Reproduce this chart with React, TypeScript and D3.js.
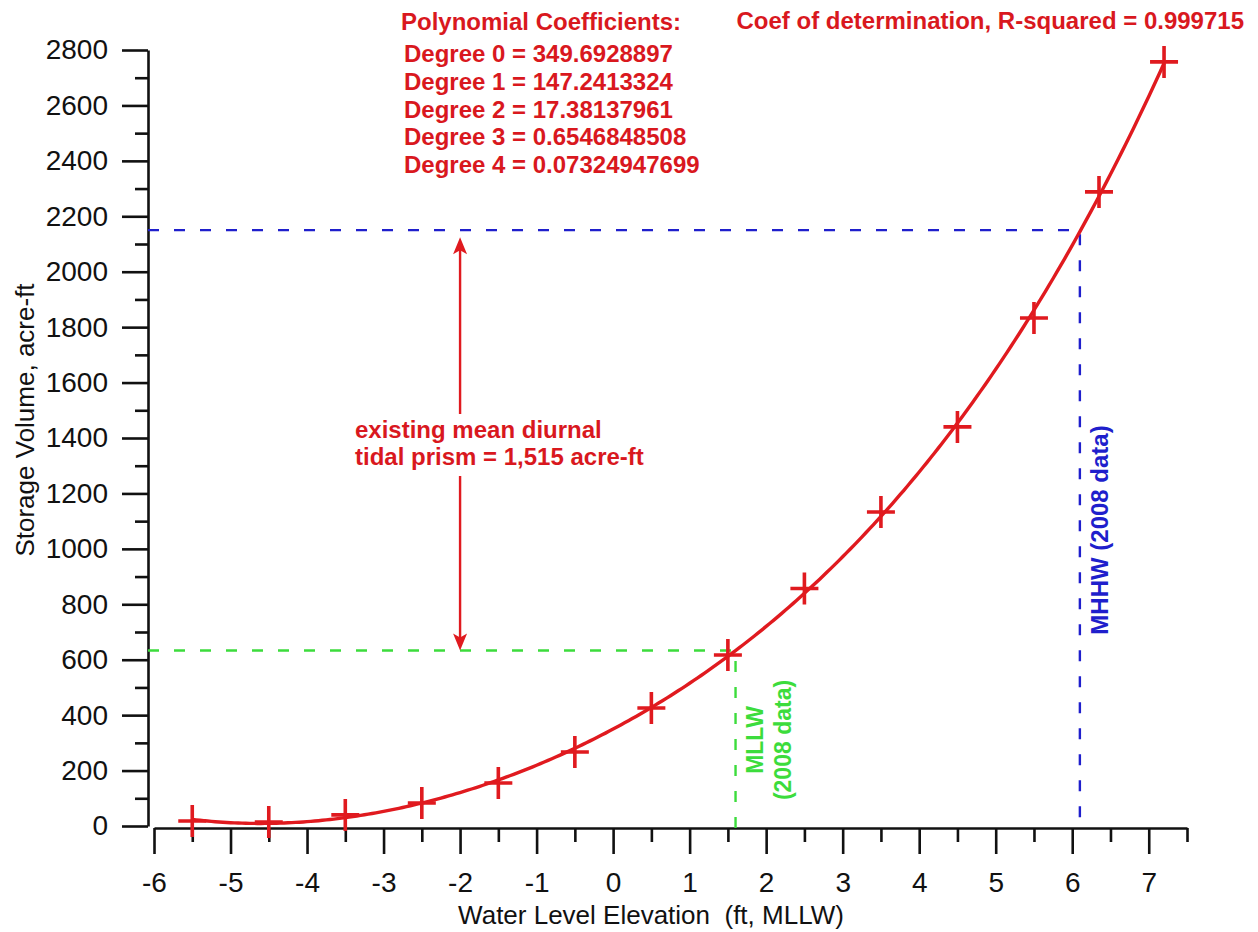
import React, { useEffect, useRef } from 'react';
import * as d3 from 'd3';

// measured storage points (ft MLLW, acre-ft)
const elevation = [-5.5, -4.5, -3.5, -2.5, -1.5, -0.5, 0.5, 1.5, 2.5, 3.5, 4.5, 5.5, 6.35, 7.2];
const storage = [18, 14, 40, 83, 155, 267, 426, 617, 857, 1133, 1440, 1833, 2288, 2757];

// 4th order fit shown on the chart
const coefficients = [349.6928897, 147.2413324, 17.38137961, 0.6546848508, 0.07324947699];
const rSquared = 0.999715;
const fitRange = [-5.5, 7.2];

const xMajorTicks = [-6, -5, -4, -3, -2, -1, 0, 1, 2, 3, 4, 5, 6, 7];
const yMajorTicks = [0, 200, 400, 600, 800, 1000, 1200, 1400, 1600, 1800, 2000, 2200, 2400, 2600, 2800];

const mllw = { elevation: 1.6, volume: 633 };
const mhhw = { elevation: 6.1, volume: 2150 };
const tidalPrism = '1,515';

const W = 1258;
const H = 932;
const RED = '#e01a1f';
const TEXT_RED = '#d9181e';
const GREEN = '#3cdc3c';
const BLUE = '#1f1fcc';
const FONT = '"Liberation Sans", Arial, sans-serif';

const StorageChart: React.FC = () => {
  const svgRef = useRef<SVGSVGElement | null>(null);

  useEffect(() => {
    const svg = d3.select(svgRef.current);
    svg.selectAll('*').remove();
    svg.style('font-family', FONT);

    const x = d3.scaleLinear().domain([-6, 7.5]).range([154, 1187]);
    const y = d3.scaleLinear().domain([0, 2800]).range([826, 50]);
    const xAxisY = 828;
    const yAxisX = 148;

    // axes: minor ticks first, then major with labels
    const xMinor = d3.range(-5.5, 7.6, 1);
    const yMinor = d3.range(100, 2800, 200);

    const gx = svg.append('g').attr('transform', `translate(0,${xAxisY})`);
    gx.append('g')
      .call(d3.axisBottom(x).tickValues(xMinor).tickSize(14).tickFormat(() => '').tickSizeOuter(0))
      .call((g) => g.select('.domain').remove());
    gx.append('g')
      .call(
        d3.axisBottom(x).tickValues(xMajorTicks).tickSize(26).tickPadding(18).tickSizeOuter(0)
          .tickFormat((d) => String(d))
      );

    const gy = svg.append('g').attr('transform', `translate(${yAxisX},0)`);
    gy.append('g')
      .call(d3.axisLeft(y).tickValues(yMinor).tickSize(13).tickFormat(() => '').tickSizeOuter(0))
      .call((g) => g.select('.domain').remove());
    gy.append('g')
      .call(
        d3.axisLeft(y).tickValues(yMajorTicks).tickSize(26).tickPadding(14).tickSizeOuter(0)
          .tickFormat((d) => String(d))
      );

    svg.selectAll('.domain, .tick line').attr('stroke', '#111').attr('stroke-width', 2.6);
    svg.selectAll('.tick text')
      .attr('fill', '#111')
      .style('font-size', '28px')
      .style('font-family', FONT);

    // axis titles
    svg.append('text')
      .attr('x', 651)
      .attr('y', 924)
      .attr('text-anchor', 'middle')
      .attr('fill', '#111')
      .style('font-size', '26px')
      .style('white-space', 'pre')
      .text('Water Level Elevation  (ft, MLLW)');

    svg.append('text')
      .attr('transform', 'translate(34,420) rotate(-90)')
      .attr('text-anchor', 'middle')
      .attr('fill', '#111')
      .style('font-size', '26px')
      .text('Storage Volume, acre-ft');

    // reference datum lines
    const dash = '11 15';
    svg.append('path')
      .attr('d', `M${yAxisX},${y(mllw.volume)}H${x(mllw.elevation)}V${xAxisY}`)
      .attr('fill', 'none')
      .attr('stroke', GREEN)
      .attr('stroke-width', 2.4)
      .attr('stroke-dasharray', dash);

    svg.append('path')
      .attr('d', `M${yAxisX},${y(mhhw.volume)}H${x(mhhw.elevation)}V${xAxisY}`)
      .attr('fill', 'none')
      .attr('stroke', BLUE)
      .attr('stroke-width', 2.4)
      .attr('stroke-dasharray', dash);

    // polynomial fit curve
    const poly = (v: number) => coefficients.reduce((s, c, i) => s + c * Math.pow(v, i), 0);
    const samples = d3.range(fitRange[0], fitRange[1] + 0.001, 0.05);
    const line = d3.line<number>().x((d) => x(d)).y((d) => y(poly(d)));
    svg.append('path')
      .datum(samples)
      .attr('d', line)
      .attr('fill', 'none')
      .attr('stroke', RED)
      .attr('stroke-width', 3.4);

    // data markers
    svg.append('g')
      .selectAll('path')
      .data(elevation)
      .join('path')
      .attr('transform', (d, i) => `translate(${x(d)},${y(storage[i])})`)
      .attr('d', 'M-14,0H14M0,-16V16')
      .attr('stroke', RED)
      .attr('stroke-width', 3.6)
      .attr('fill', 'none');

    // tidal prism arrow
    const ax = x(-2);
    const top = y(mhhw.volume) + 7;
    const bottom = y(mllw.volume);
    svg.append('line')
      .attr('x1', ax).attr('x2', ax)
      .attr('y1', top + 10).attr('y2', bottom - 10)
      .attr('stroke', RED)
      .attr('stroke-width', 2.4);
    svg.append('path')
      .attr('d', `M${ax},${top}L${ax - 7},${top + 17}L${ax},${top + 13}L${ax + 7},${top + 17}Z`)
      .attr('fill', RED);
    svg.append('path')
      .attr('d', `M${ax},${bottom}L${ax - 7},${bottom - 17}L${ax},${bottom - 13}L${ax + 7},${bottom - 17}Z`)
      .attr('fill', RED);

    svg.append('rect')
      .attr('x', 350).attr('y', 414).attr('width', 310).attr('height', 62)
      .attr('fill', 'white');

    const prism = svg.append('text')
      .attr('fill', TEXT_RED)
      .style('font-size', '24px')
      .style('font-weight', 'bold');
    prism.append('tspan').attr('x', 355).attr('y', 438).text('existing mean diurnal');
    prism.append('tspan').attr('x', 355).attr('y', 465).text(`tidal prism = ${tidalPrism} acre-ft`);

    // datum labels
    svg.append('text')
      .attr('transform', `translate(${x(mhhw.elevation) + 28},530) rotate(-90)`)
      .attr('text-anchor', 'middle')
      .attr('fill', BLUE)
      .style('font-size', '24px')
      .style('font-weight', 'bold')
      .text('MHHW (2008 data)');

    const ml = svg.append('text')
      .attr('transform', `translate(${x(mllw.elevation)},740) rotate(-90)`)
      .attr('text-anchor', 'middle')
      .attr('fill', GREEN)
      .style('font-size', '23px')
      .style('font-weight', 'bold');
    ml.append('tspan').attr('x', 0).attr('y', 27).text('MLLW');
    ml.append('tspan').attr('x', 0).attr('y', 55).text('(2008 data)');

    // coefficient block
    const coef = svg.append('g')
      .attr('fill', TEXT_RED)
      .style('font-size', '24px')
      .style('font-weight', 'bold');
    coef.append('text').attr('x', 401).attr('y', 30).text('Polynomial Coefficients:');
    coef.selectAll('text.deg')
      .data(coefficients)
      .join('text')
      .attr('class', 'deg')
      .attr('x', 404)
      .attr('y', (d, i) => 62 + i * 27.8)
      .text((d, i) => `Degree ${i} = ${d}`);
    coef.append('text')
      .attr('x', 1244)
      .attr('y', 29)
      .attr('text-anchor', 'end')
      .text(`Coef of determination, R-squared = ${rSquared}`);
  }, []);

  return (
    <svg
      ref={svgRef}
      width={W}
      height={H}
      style={{ position: 'absolute', left: 0, top: 0, background: 'white' }}
    />
  );
};

export default function App() {
  return <StorageChart />;
}
